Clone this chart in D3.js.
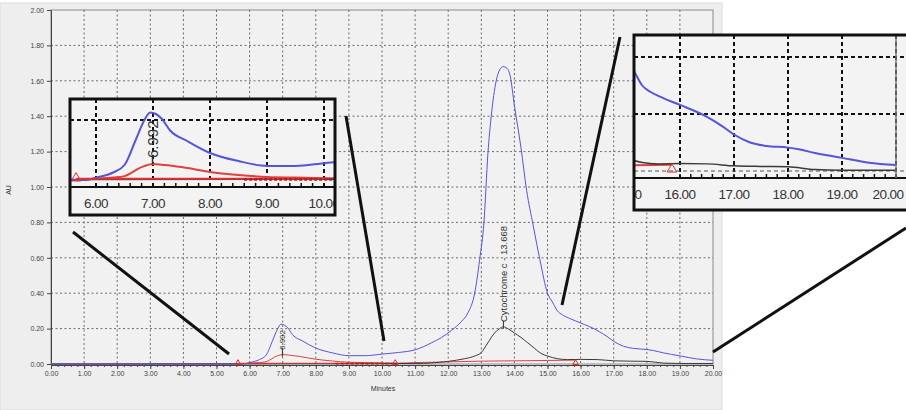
<!DOCTYPE html>
<html lang="en">
<head>
<meta charset="UTF-8">
<title>Chromatogram</title>
<script src="https://d3js.org/d3.v7.min.js"></script>
<style>
    body { margin: 0; padding: 0; background: #ffffff; }
    svg text { font-family: "Liberation Sans", Arial, sans-serif; fill: #333; }
</style>
</head>
<body>
<div id="vis"></div>
<script>
// ---- data ----
const blueTime = [0, 5.8, 6.0, 6.3, 6.5, 6.7, 6.85, 6.95, 7.05, 7.15, 7.3, 7.6, 8.0, 8.5, 9.0, 9.5, 10.0, 10.5, 11.0, 11.5, 11.8, 12.1, 12.4, 12.6, 12.8, 12.95, 13.08, 13.2, 13.3, 13.45, 13.55, 13.66, 13.78, 13.87, 14.0, 14.2, 14.37, 14.57, 14.77, 15.0, 15.15, 15.3, 15.45, 15.7, 16.0, 16.5, 16.8, 17.0, 17.3, 17.6, 18.0, 18.2, 18.5, 19.0, 19.5, 20.0];
const blueAU   = [0, 0, 0.008, 0.025, 0.05, 0.135, 0.2, 0.225, 0.22, 0.205, 0.165, 0.13, 0.09, 0.063, 0.047, 0.047, 0.056, 0.065, 0.08, 0.12, 0.15, 0.19, 0.24, 0.29, 0.40, 0.59, 0.80, 1.19, 1.40, 1.60, 1.66, 1.68, 1.67, 1.63, 1.46, 1.22, 0.98, 0.78, 0.59, 0.40, 0.35, 0.30, 0.278, 0.255, 0.232, 0.19, 0.155, 0.128, 0.10, 0.088, 0.082, 0.076, 0.063, 0.046, 0.029, 0.021];

const blackTime = [0, 11.0, 11.5, 12.0, 12.5, 12.8, 13.0, 13.2, 13.4, 13.55, 13.67, 13.8, 14.0, 14.2, 14.4, 14.6, 14.8, 15.0, 15.3, 15.6, 16.0, 16.5, 17.0, 17.5, 18.0, 18.5, 19.0, 20.0];
const blackAU   = [0, 0.003, 0.006, 0.015, 0.03, 0.045, 0.065, 0.12, 0.175, 0.2, 0.21, 0.2, 0.175, 0.15, 0.12, 0.09, 0.06, 0.045, 0.03, 0.025, 0.026, 0.025, 0.018, 0.016, 0.015, 0.005, 0.003, 0.003];

const redTime = [0, 5.6, 6.0, 6.3, 6.5, 6.8, 7.0, 7.2, 7.5, 8.0, 8.5, 9.0, 9.5, 10.0, 10.5, 11.0, 12.0, 13.0, 14.0, 15.0, 15.85];
const redAU   = [0, 0, 0.004, 0.008, 0.013, 0.043, 0.053, 0.05, 0.043, 0.027, 0.017, 0.01, 0.008, 0.006, 0.005, 0.008, 0.012, 0.016, 0.018, 0.02, 0.022];

// integration baselines (start / end of peaks)
const baseTime = [5.65, 10.05];
const baseAU = [0.004, 0.004];
const markTime = [5.65, 10.4, 15.85];

const peakTime = [6.992, 13.668];
const peakAU = [0.053, 0.21];
const peakName = ["6.992", "Cytochrome c - 13.668"];

const yTicks = [0, 0.2, 0.4, 0.6, 0.8, 1.0, 1.2, 1.4, 1.6, 1.8, 2.0];
const xTicks = [0, 1, 2, 3, 4, 5, 6, 7, 8, 9, 10, 11, 12, 13, 14, 15, 16, 17, 18, 19, 20];
const leftInsetTicks = [6, 7, 8, 9, 10];
const rightInsetTicks = [15, 16, 17, 18, 19, 20];

const W = 906, H = 410;
const svg = d3.select("#vis").append("svg").attr("width", W).attr("height", H);

const x = d3.scaleLinear().domain([0, 20]).range([51, 713]);
const y = d3.scaleLinear().domain([0, 2]).range([364, 10]);

const blue = blueTime.map((t, i) => [t, blueAU[i]]);
const black = blackTime.map((t, i) => [t, blackAU[i]]);
const red = redTime.map((t, i) => [t, redAU[i]]);

// grey software panel
svg.append("rect").attr("x", 0).attr("y", 3).attr("width", 722).attr("height", H - 3)
    .attr("fill", "#eeeeee").attr("stroke", "#dcdcdc");
svg.append("rect").attr("x", x(0)).attr("y", y(2)).attr("width", x(20) - x(0)).attr("height", y(0) - y(2))
    .attr("fill", "#f1f1f1").attr("stroke", "#8a8a8a");

svg.append("clipPath").attr("id", "mainClip").append("rect")
    .attr("x", x(0)).attr("y", y(2)).attr("width", x(20) - x(0)).attr("height", y(0) - y(2) + 2);

// dotted grid
const grid = svg.append("g").attr("stroke", "#6a6a6a").attr("stroke-dasharray", "2,2.5").attr("stroke-width", 1);
grid.selectAll(".gx").data(xTicks.slice(1, -1)).enter().append("line")
    .attr("x1", d => x(d)).attr("x2", d => x(d)).attr("y1", y(2)).attr("y2", y(0));
grid.selectAll(".gy").data(yTicks.slice(1, -1)).enter().append("line")
    .attr("y1", d => y(d)).attr("y2", d => y(d)).attr("x1", x(0)).attr("x2", x(20));

// axes
const xAxis = svg.append("g").attr("transform", `translate(0,${y(0) + 1})`)
    .call(d3.axisBottom(x).tickValues(xTicks).tickFormat(d3.format(".2f")).tickSize(4).tickSizeOuter(0));
svg.append("g").attr("transform", `translate(0,${y(0) + 1})`)
    .call(d3.axisBottom(x).ticks(100).tickFormat("").tickSize(2).tickSizeOuter(0))
    .call(g => g.select(".domain").remove());
const yAxis = svg.append("g").attr("transform", `translate(${x(0)},0)`)
    .call(d3.axisLeft(y).tickValues(yTicks).tickFormat(d3.format(".2f")).tickSize(4).tickSizeOuter(0));
svg.selectAll(".tick text").attr("font-size", 7).style("fill", "#444");
svg.selectAll(".domain, .tick line").attr("stroke", "#444");
xAxis.selectAll(".tick text").attr("dy", "0.55em");

svg.append("text").attr("x", 383).attr("y", 391).attr("text-anchor", "middle").attr("font-size", 7).text("Minutes");
svg.append("text").attr("transform", "translate(11,190) rotate(-90)").attr("text-anchor", "middle")
    .attr("font-size", 7).text("AU");

// traces
function drawTraces(g, sx, sy, widths) {
    const line = d3.line().x(d => sx(d[0])).y(d => sy(d[1])).curve(d3.curveMonotoneX);
    g.append("path").datum(red).attr("d", line).attr("fill", "none")
        .attr("stroke", "#e04040").attr("stroke-width", widths[0]);
    g.append("path").datum(black).attr("d", line).attr("fill", "none")
        .attr("stroke", "#3a3a3a").attr("stroke-width", widths[1]);
    g.append("path").datum(blue).attr("d", line).attr("fill", "none")
        .attr("stroke", "#5555d8").attr("stroke-width", widths[2]);
    // baselines
    g.append("line").attr("x1", sx(baseTime[0])).attr("x2", sx(baseTime[1]))
        .attr("y1", sy(baseAU[0])).attr("y2", sy(baseAU[1]))
        .attr("stroke", "#e03030").attr("stroke-width", widths[0]);
    g.append("line").attr("x1", sx(8.6)).attr("x2", sx(10.4))
        .attr("y1", sy(0.002)).attr("y2", sy(0.002))
        .attr("stroke", "#b02020").attr("stroke-width", widths[0] + 0.8).attr("stroke-dasharray", "3,2");
    g.selectAll(".mark").data(markTime).enter().append("path")
        .attr("d", d3.symbol(d3.symbolTriangle, widths[3]))
        .attr("transform", d => `translate(${sx(d)},${sy(0.006)})`)
        .attr("fill", "none").attr("stroke", "#e03030").attr("stroke-width", 1);
}
const mainG = svg.append("g").attr("clip-path", "url(#mainClip)");
drawTraces(mainG, x, y, [1, 1, 1, 14]);

// peak labels
mainG.selectAll(".ptick").data(peakTime).enter().append("line")
    .attr("x1", d => x(d)).attr("x2", d => x(d))
    .attr("y1", (d, i) => y(peakAU[i]) + 2).attr("y2", (d, i) => y(peakAU[i]) - 6)
    .attr("stroke", "#333");
svg.append("text").attr("transform", `translate(${x(peakTime[0]) + 3},350) rotate(-90)`)
    .attr("font-size", 8).text(peakName[0]);
svg.append("text").attr("transform", `translate(${x(peakTime[1]) + 4},322) rotate(-90)`)
    .attr("font-size", 9.5).text(peakName[1]);

// zoom connector lines
const connectors = [[73, 232, 229, 354], [346, 116, 384, 341], [620, 37, 562, 305], [713, 352, 906, 228]];
svg.selectAll(".conn").data(connectors).enter().append("line")
    .attr("x1", d => d[0]).attr("y1", d => d[1]).attr("x2", d => d[2]).attr("y2", d => d[3])
    .attr("stroke", "#111").attr("stroke-width", 3);

// insets
function inset(id, box, sx, sy, axisY, ticks, gridY, labelY) {
    const g = svg.append("g");
    svg.append("clipPath").attr("id", id).append("rect")
        .attr("x", box[0]).attr("y", box[1]).attr("width", box[2] - box[0]).attr("height", box[3] - box[1]);
    g.append("rect").attr("x", box[0]).attr("y", box[1]).attr("width", box[2] - box[0]).attr("height", box[3] - box[1])
        .attr("fill", "#f3f3f3");
    const c = g.append("g").attr("clip-path", `url(#${id})`);
    const dash = c.append("g").attr("stroke", "#111").attr("stroke-width", 2).attr("stroke-dasharray", "4,3");
    dash.selectAll("line.v").data(ticks).enter().append("line")
        .attr("x1", d => sx(d)).attr("x2", d => sx(d)).attr("y1", box[1]).attr("y2", axisY);
    dash.selectAll("line.h").data(gridY).enter().append("line")
        .attr("x1", box[0]).attr("x2", box[2]).attr("y1", d => sy(d)).attr("y2", d => sy(d))
        .attr("stroke-width", d => d === 0 ? 1 : 2).attr("stroke", d => d === 0 ? "#555" : "#111");
    drawTraces(c, sx, sy, [2, 1.5, 2, 40]);
    c.selectAll(".ptick").data(peakTime).enter().append("line")
        .attr("x1", d => sx(d)).attr("x2", d => sx(d))
        .attr("y1", (d, i) => sy(peakAU[i])).attr("y2", (d, i) => sy(peakAU[i]) - 9)
        .attr("stroke", "#333").attr("stroke-width", 1.5);
    c.append("line").attr("x1", box[0]).attr("x2", box[2]).attr("y1", axisY).attr("y2", axisY)
        .attr("stroke", "#111").attr("stroke-width", 2);
    const minor = d3.range(Math.ceil(sx.domain()[0] * 5), Math.floor(sx.domain()[1] * 5) + 1).map(d => d / 5);
    c.selectAll(".mt").data(minor).enter().append("line")
        .attr("x1", d => sx(d)).attr("x2", d => sx(d)).attr("y1", axisY).attr("y2", axisY - 4)
        .attr("stroke", "#111").attr("stroke-width", 1.5);
    c.selectAll(".tl").data(ticks).enter().append("text")
        .attr("x", d => Math.min(sx(d), W - 18)).attr("y", labelY).attr("text-anchor", "middle")
        .attr("font-size", 13.5).attr("letter-spacing", -0.6).style("fill", "#333")
        .text(d => d3.format(".2f")(d));
    g.append("rect").attr("x", box[0]).attr("y", box[1]).attr("width", box[2] - box[0]).attr("height", box[3] - box[1])
        .attr("fill", "none").attr("stroke", "#111").attr("stroke-width", 3);
    return c;
}

const lx = d3.scaleLinear().domain([6, 10]).range([96, 324]);
const ly = d3.scaleLinear().domain([0, 0.2]).range([180, 120]);
const lc = inset("leftClip", [70, 99, 335, 215], lx, ly, 187, leftInsetTicks, [0.2], 208);
lc.append("text").attr("transform", `translate(${lx(peakTime[0]) + 5},158) rotate(-90)`)
    .attr("font-size", 15).style("fill", "#333").text(peakName[0]);

const rx = d3.scaleLinear().domain([16, 20]).range([680, 896]);
const ry = d3.scaleLinear().domain([0, 0.2]).range([171, 114]);
const rc = inset("rightClip", [634, 35, 910, 210], rx, ry, 178, rightInsetTicks, [0, 0.2, 0.4], 199);
rc.append("line").attr("x1", rx(20)).attr("x2", rx(20)).attr("y1", 35).attr("y2", 178)
    .attr("stroke", "#777").attr("stroke-width", 1.5);
</script>
</body>
</html>
